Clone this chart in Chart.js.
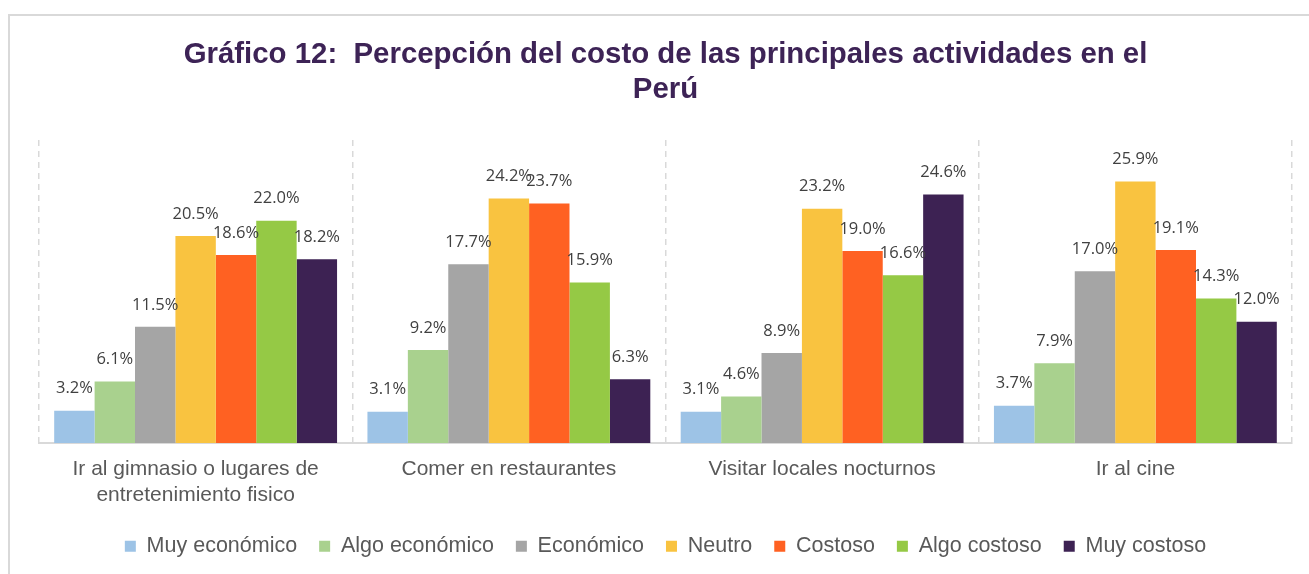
<!DOCTYPE html>
<html>
<head>
<meta charset="utf-8">
<script src="https://cdn.jsdelivr.net/npm/chart.js@4"></script>
<style>
  html, body { margin: 0; padding: 0; background: #fff; }
  #frame { position: absolute; left: 8px; top: 14px; width: 1400px; height: 700px;
           border-left: 2px solid #d9d9d9; border-top: 2px solid #d9d9d9; }
  #wrap { position: absolute; left: 0; top: 0; width: 1309px; height: 574px; }
</style>
</head>
<body>
<div id="frame"></div>
<div id="wrap"><canvas id="chart"></canvas></div>
<script>
// ==== Datos ====
const categorias = [
  ['Ir al gimnasio o lugares de', 'entretenimiento fisico'],
  'Comer en restaurantes',
  'Visitar locales nocturnos',
  'Ir al cine'
];
const series = ['Muy económico', 'Algo económico', 'Económico', 'Neutro', 'Costoso', 'Algo costoso', 'Muy costoso'];
const colores = ['#9dc3e6', '#a9d18e', '#a5a5a5', '#f9c340', '#ff6122', '#95c945', '#3d2253'];

const muyEconomico  = [3.2, 3.1, 3.1, 3.7];
const algoEconomico = [6.1, 9.2, 4.6, 7.9];
const economico     = [11.5, 17.7, 8.9, 17.0];
const neutro        = [20.5, 24.2, 23.2, 25.9];
const costoso       = [18.6, 23.7, 19.0, 19.1];
const algoCostoso   = [22.0, 15.9, 16.6, 14.3];
const muyCostoso    = [18.2, 6.3, 24.6, 12.0];
const valores = [muyEconomico, algoEconomico, economico, neutro, costoso, algoCostoso, muyCostoso];

// etiquetas de valor sobre cada barra
const etiquetasPlugin = {
  id: 'etiquetas',
  afterDatasetsDraw(chart) {
    const ctx = chart.ctx;
    ctx.save();
    ctx.font = '16.5px "Open Sans"';
    ctx.fillStyle = '#404040';
    ctx.textAlign = 'center';
    ctx.textBaseline = 'middle';
    chart.data.datasets.forEach((ds, i) => {
      chart.getDatasetMeta(i).data.forEach((bar, j) => {
        ctx.fillText(ds.data[j].toFixed(1) + '%', bar.x, bar.y - 22);
      });
    });
    ctx.restore();
  }
};

new Chart(document.getElementById('chart'), {
  type: 'bar',
  data: {
    labels: categorias,
    datasets: series.map((s, i) => ({
      label: s,
      data: valores[i],
      backgroundColor: colores[i],
      borderWidth: 0,
      barPercentage: 1,
      categoryPercentage: 0.903
    }))
  },
  options: {
    responsive: true,
    maintainAspectRatio: false,
    animation: false,
    layout: { padding: { left: 39, right: 17, top: 0, bottom: 7 } },
    plugins: {
      title: {
        display: true,
        text: ['Gráfico 12:  Percepción del costo de las principales actividades en el', 'Perú'],
        color: '#3d2356',
        font: { family: 'Liberation Sans', size: 29.4, weight: 'bold', lineHeight: 1.19 },
        padding: { top: 37.5, bottom: 32.5 }
      },
      legend: {
        position: 'bottom',
        labels: {
          color: '#595959',
          font: { family: 'Liberation Sans', size: 21.5 },
          boxWidth: 11,
          boxHeight: 11,
          padding: 22
        }
      },
      tooltip: { enabled: false }
    },
    scales: {
      x: {
        grid: { display: true, color: '#d9d9d9', lineWidth: 1.5, drawTicks: false, offset: true },
        border: { display: true, color: '#d9d9d9', width: 2, dash: [6, 5] },
        ticks: { color: '#595959', font: { family: 'Liberation Sans', size: 21, lineHeight: 1.2 }, padding: 14 },
        afterFit(scale) { scale.height = 70.5; }
      },
      y: {
        display: false,
        min: 0,
        max: 30
      }
    }
  },
  plugins: [etiquetasPlugin]
});
</script>
</body>
</html>
